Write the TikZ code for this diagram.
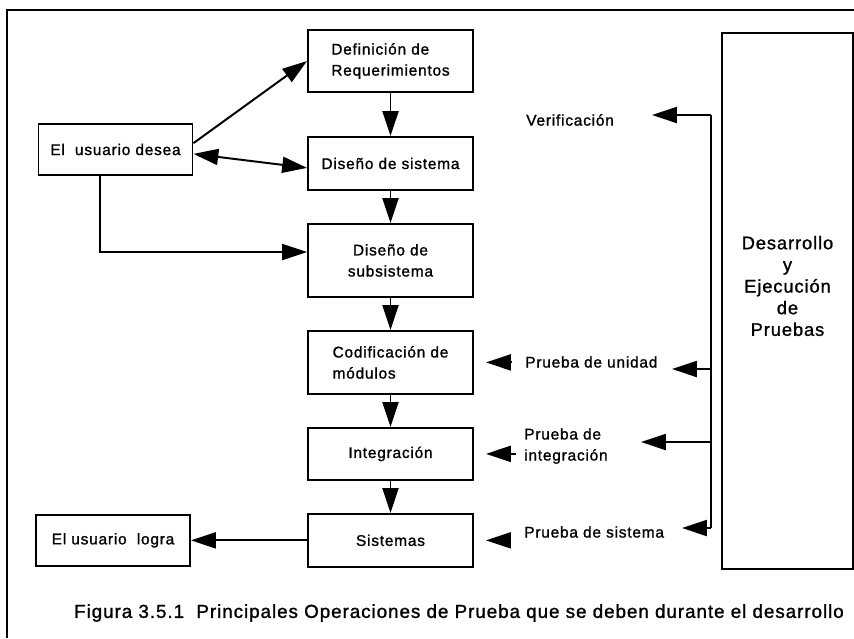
\documentclass[tikz,border=0pt]{standalone}
\usepackage{fontspec}
\setmainfont[LetterSpace=5,FakeBold=1.2]{Liberation Sans}
\usepackage{tikz}
\usetikzlibrary{arrows.meta,positioning}
\tikzset{
  stagebox/.style={draw, line width=1.4pt, minimum width=41.25mm,
    align=center, font=\fontsize{11}{15}\selectfont},
  userbox/.style={draw, line width=1.4pt, minimum width=38.5mm,
    minimum height=12.75mm, align=center, font=\fontsize{11}{15}\selectfont},
  testbox/.style={draw, line width=1.4pt, minimum width=32.75mm, minimum height=134mm},
  testlabel/.style={anchor=west, inner sep=0pt, align=left, font=\fontsize{11}{15}\selectfont},
  flow/.style={-{Triangle[length=6.2mm,width=4mm]}, line width=1.4pt},
  bothflow/.style={{Triangle[length=6.2mm,width=4mm]}-{Triangle[length=6.2mm,width=4mm]}, line width=1.4pt},
  busline/.style={line width=1.4pt}
}

\begin{document}
\begin{tikzpicture}[x=0.25mm, y=-0.25mm, node distance=8mm and 29mm]
\useasboundingbox (0,0) rectangle (854,638);
\draw[line width=1.4pt] (854,10) -- (7,10) -- (7,638);

\node[stagebox, minimum height=15.5mm, align=left] (req) at (390.5,61) {Definición de\\Requerimientos};
\node[stagebox, minimum height=13.25mm, below=10.75mm of req] (sis) {Diseño de sistema};
\node[stagebox, minimum height=18.25mm, below=of sis] (sub) {Diseño de\\subsistema};
\node[stagebox, minimum height=15.75mm, below=of sub, align=left] (cod) {Codificación de\\módulos};
\node[stagebox, minimum height=13mm, below=of cod] (integ) {Integración};
\node[stagebox, minimum height=13.25mm, below=of integ] (sist) {Sistemas};

\node[userbox] (desea) at (115.5,149.5) {El\ \ usuario desea};
\node[userbox, left=of sist] (logra) {El usuario\ \ logra};

\node[testbox] (pru) at (787.5,301) {};
\node[align=center, font=\fontsize{13}{15.4}\selectfont] (prutxt) at (787.5,286) {Desarrollo\\y\\Ejecución\\de\\Pruebas};

\node[testlabel] (ver) at (526,120) {Verificación};
\node[testlabel] (uni) at (525,362) {Prueba de unidad};
\node[testlabel] (intl) at (524,446) {Prueba de\\integración};
\node[testlabel] (sisl) at (524,532) {Prueba de sistema};

\node[font=\fontsize{13.4}{15}\selectfont] (cap) at (459,613) {Figura 3.5.1\ \ Principales Operaciones de Prueba que se deben durante el desarrollo};

% column
\draw[flow] (req) -- (sis);
\draw[flow] (sis) -- (sub);
\draw[flow] (sub) -- (cod);
\draw[flow] (cod) -- (integ);
\draw[flow] (integ) -- (sist);

% user
\draw[flow] ([yshift=1.6mm]desea.east) -- (req.west);
\draw[bothflow] ([yshift=-1.1mm]desea.east) -- ([yshift=-1.1mm]sis.west);
\draw[flow] ([xshift=-3.9mm]desea.south) |- ([yshift=2.1mm]sub.west);
\draw[flow] (sist.west) -- (logra.east);

% tests
\coordinate (b1) at (711,115);
\coordinate (b2) at (711,369);
\coordinate (b3) at (711,442);
\coordinate (b4) at (711,528);
\coordinate (t1) at (652,115);
\coordinate (t2) at (672,369);
\coordinate (t3) at (641,442);
\coordinate (t4) at (682,528);
\draw[busline] (b1) -- (b4);
\draw[flow] (b1) -- (t1);
\draw[flow] (b2) -- (t2);
\draw[flow] (b3) -- (t3);
\draw[flow] (b4) -- (t4);

\draw[flow, shorten <=3.3mm, shorten >=3mm] (uni.west |- cod.east) -- (cod.east);
\draw[flow, shorten <=2mm, shorten >=3mm] (intl.west |- integ.east) -- (integ.east);
\draw[flow, shorten <=3.3mm, shorten >=3mm] (sisl.west |- sist.east) -- (sist.east);
\end{tikzpicture}
\end{document}
